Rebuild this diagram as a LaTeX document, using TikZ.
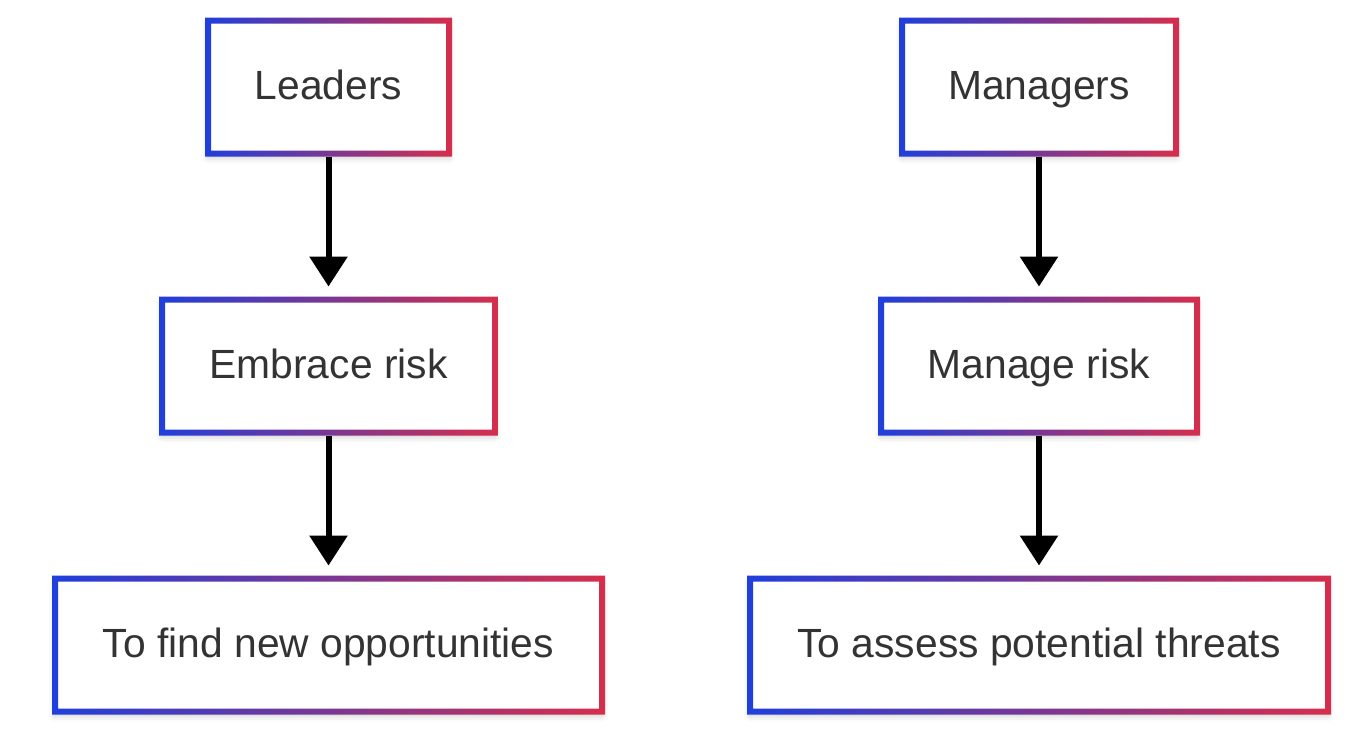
\documentclass[tikz,border=0pt]{standalone}
\usepackage{fontspec}
\setmainfont{Liberation Sans}
\usetikzlibrary{arrows.meta,shadows.blur}
\definecolor{bblue}{HTML}{1F3FDC}
\definecolor{bred}{HTML}{D62E4C}
\definecolor{txt}{HTML}{333333}
\tikzset{
  box/.style={rectangle, fill=white, draw=none, outer sep=3pt, inner sep=0pt,
    minimum height=133pt, text height=25pt, text depth=0pt, text=txt,
    font=\fontsize{40.8}{48}\selectfont,
    blur shadow={shadow xshift=0pt, shadow yshift=-4pt, shadow opacity=22, shadow blur radius=6pt}},
  flow/.style={line width=6pt, black, -{Triangle[length=30pt,width=37pt]}, shorten >=10pt},
}
\newcommand\gradborder[1]{%
  \shade[left color=bblue, right color=bred, even odd rule]
    (#1.north west) rectangle (#1.south east)
    ([shift={(6pt,-6pt)}]#1.north west) rectangle ([shift={(-6pt,6pt)}]#1.south east);%
}
\begin{document}
\begin{tikzpicture}[x=1pt,y=-1pt]
\useasboundingbox (0,0) rectangle (1372,750);
\node[box, minimum width=241pt] (l1) at (328.5,87) {Leaders};
\node[box, minimum width=333pt] (l2) at (328.5,366) {Embrace risk};
\node[box, minimum width=547pt] (l3) at (328.5,645) {To find new opportunities};
\node[box, minimum width=274pt] (r1) at (1039,87) {Managers};
\node[box, minimum width=316pt] (r2) at (1039,366) {Manage risk};
\node[box, minimum width=578pt] (r3) at (1039,645) {To assess potential threats};
\gradborder{l1}\gradborder{l2}\gradborder{l3}
\gradborder{r1}\gradborder{r2}\gradborder{r3}
\draw[flow] (l1.south) -- (l2.north);
\draw[flow] (l2.south) -- (l3.north);
\draw[flow] (r1.south) -- (r2.north);
\draw[flow] (r2.south) -- (r3.north);
\end{tikzpicture}
\end{document}
